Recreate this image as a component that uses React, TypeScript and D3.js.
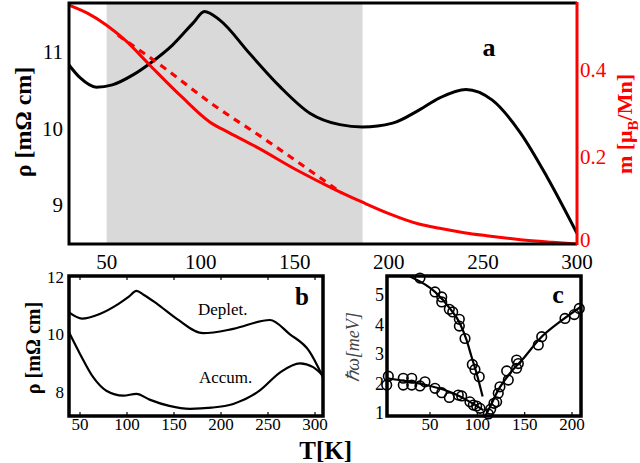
import React from "react";
import * as d3 from "d3";

// ---- panel a: resistivity (black) and magnetisation (red) vs T ----
const tempA = [30, 36, 44.5, 53, 64, 73, 85, 96, 102, 110, 126, 142, 158, 174, 186, 202, 216, 227, 241, 255, 270, 284, 300];
const rhoA = [10.83, 10.66, 10.54, 10.57, 10.7, 10.85, 11.09, 11.38, 11.53, 11.42, 10.98, 10.55, 10.2, 10.05, 10.02, 10.07, 10.24, 10.4, 10.51, 10.37, 9.94, 9.37, 8.63];
const tempM = [30, 40, 50, 60, 73, 90, 105, 115, 130, 151, 170, 186, 200, 216, 227, 240, 252, 270, 287, 300];
const magM = [0.549, 0.53, 0.503, 0.468, 0.411, 0.338, 0.28, 0.256, 0.222, 0.17, 0.128, 0.096, 0.07, 0.046, 0.036, 0.026, 0.019, 0.01, 0.004, 0];
const tempDash = [56, 80, 106, 133, 175];
const magDash = [0.48, 0.407, 0.322, 0.244, 0.117];
const shadeA = [50, 186];
const ticksTA = [50, 100, 150, 200, 250, 300];
const ticksRho = [9, 10, 11];
const ticksM = [0, 0.2, 0.4];

// ---- panel b: depletion / accumulation ----
const tempDep = [38.3, 52, 71, 91, 102, 110, 118, 132, 153, 181, 213, 252, 273, 294, 308.5];
const rhoDep = [10.75, 10.54, 10.7, 11.05, 11.3, 11.5, 11.36, 11.05, 10.53, 10.03, 10.18, 10.49, 10.0, 9.4, 8.5];
const tempAcc = [38.3, 50, 64, 78, 96, 110, 124, 145, 167, 190, 213, 241, 263, 284, 298, 308.5];
const rhoAcc = [10.06, 9.31, 8.5, 8.03, 7.86, 7.92, 7.72, 7.5, 7.4, 7.44, 7.57, 8.03, 8.67, 8.98, 8.85, 8.55];
const ticksTB = [50, 100, 150, 200, 250, 300];
const ticksRhoB = [8, 10, 12];

// ---- panel c: mode energies ----
const tempC = [39.4, 55.3, 62.4, 62.4, 70.4, 74, 81, 81, 87, 94.7, 97.5, 102,
  6, 4.3, 21.8, 21.8, 30.7, 30.7, 39.4, 44.7, 55.3, 62.4, 70.4, 79.9, 83.5, 92.2, 95.7, 99.3, 102.8,
  111.6, 114.1, 117.6, 120.4, 122.1, 123.9, 131, 132.7, 141.5, 141.5, 143.3, 164.4, 168, 192.6, 202.4, 207.7];
const omegaC = [5.58, 5.11, 4.94, 4.77, 4.52, 4.43, 4.18, 3.95, 3.53, 2.65, 2.48, 2.23,
  2.25, 1.95, 2.18, 1.95, 2.18, 1.95, 1.92, 2.06, 1.84, 1.69, 1.53, 1.61, 1.58, 1.38, 1.27, 1.24, 1.16,
  0.97, 1.13, 1.33, 1.38, 1.67, 1.89, 2.43, 2.12, 2.52, 2.8, 2.68, 3.31, 3.59, 4.21, 4.34, 4.55];
const fitUpperT = [28.9, 55.3, 71, 81.5, 88.6, 93.9, 99.2, 105.6];
const fitUpperW = [5.63, 5.11, 4.55, 4.05, 3.48, 2.91, 2.35, 1.56];
const fitLowerT = [4.3, 39.4, 74.6, 92.2, 106.3];
const fitLowerW = [2.18, 2.0, 1.67, 1.38, 1.1];
const fitRightT = [108, 113.4, 122.1, 134.5, 148.6, 166.2, 187.4, 209];
const fitRightW = [0.87, 1.21, 1.78, 2.35, 2.85, 3.53, 4.1, 4.6];
const ticksTC = [50, 100, 150, 200];
const ticksW = [1, 2, 3, 4, 5];

const font = "'Liberation Serif', 'Times New Roman', Times, serif";
const zip = (a: number[], b: number[]) => a.map((v, i) => [v, b[i]] as [number, number]);

const PanelA = () => {
  const x = d3.scaleLinear().domain([30, 300]).range([69, 577]);
  const y = d3.scaleLinear().domain([8.49, 11.64]).range([244, 3]);
  const yM = d3.scaleLinear().domain([0, 0.554]).range([244, 3]);
  const lineRho = d3.line<[number, number]>().x((d) => x(d[0])).y((d) => y(d[1])).curve(d3.curveMonotoneX);
  const lineM = d3.line<[number, number]>().x((d) => x(d[0])).y((d) => yM(d[1])).curve(d3.curveMonotoneX);
  return (
    <g>
      <defs>
        <clipPath id="clipA">
          <rect x={69} y={3} width={508} height={241} />
        </clipPath>
      </defs>
      <rect x={x(shadeA[0])} y={3} width={x(shadeA[1]) - x(shadeA[0])} height={241} fill="#d9d9d9" />
      <g clipPath="url(#clipA)" fill="none">
        <path d={lineRho(zip(tempA, rhoA)) ?? ""} stroke="#000" strokeWidth={3} />
        <path d={lineM(zip(tempM, magM)) ?? ""} stroke="#ff0000" strokeWidth={3} />
        <path d={lineM(zip(tempDash, magDash)) ?? ""} stroke="#ff0000" strokeWidth={3.2} strokeDasharray="7,6" />
      </g>
      <path d="M577,3 H69 V244 H577" fill="none" stroke="#000" strokeWidth={3} />
      <line x1={577} y1={2} x2={577} y2={245} stroke="#ff0000" strokeWidth={3} />
      {ticksTA.map((t) => (
        <text key={t} x={x(t)} y={269} textAnchor="middle" fontSize={21}>
          {t}
        </text>
      ))}
      {ticksRho.map((t) => (
        <text key={t} x={63} y={y(t)} dy="0.35em" textAnchor="end" fontSize={21}>
          {t}
        </text>
      ))}
      {ticksM.map((t) => (
        <text key={t} x={580} y={yM(t)} dy={t === 0 ? "0.15em" : "0.35em"} textAnchor="start" fontSize={21} fill="#ff0000">
          {t}
        </text>
      ))}
      <text x={489} y={56} textAnchor="middle" fontSize={26} fontWeight="bold">
        a
      </text>
      <text transform="translate(31,122) rotate(-90)" textAnchor="middle" fontSize={24} fontWeight="bold">
        ρ [mΩ cm]
      </text>
      <text transform="translate(632,124) rotate(-90)" textAnchor="middle" fontSize={22} fontWeight="bold" fill="#ff0000">
        m [μ<tspan fontSize={15} dy={6}>B</tspan>
        <tspan dy={-6}>/Mn]</tspan>
      </text>
    </g>
  );
};

const PanelB = () => {
  const x = d3.scaleLinear().domain([38.3, 308.5]).range([69, 323]);
  const y = d3.scaleLinear().domain([7.15, 12.02]).range([416, 276]);
  const line = d3.line<[number, number]>().x((d) => x(d[0])).y((d) => y(d[1])).curve(d3.curveMonotoneX);
  return (
    <g>
      <defs>
        <clipPath id="clipB">
          <rect x={69} y={276} width={254} height={140} />
        </clipPath>
      </defs>
      <g clipPath="url(#clipB)" fill="none" stroke="#000" strokeWidth={2.2}>
        <path d={line(zip(tempDep, rhoDep)) ?? ""} />
        <path d={line(zip(tempAcc, rhoAcc)) ?? ""} />
      </g>
      {ticksTB.map((t) => (
        <g key={t}>
          <line x1={x(t)} x2={x(t)} y1={416} y2={412} stroke="#000" strokeWidth={1.2} />
          <line x1={x(t)} x2={x(t)} y1={276} y2={280} stroke="#000" strokeWidth={1.2} />
          <text x={x(t)} y={430} textAnchor="middle" fontSize={17}>
            {t}
          </text>
        </g>
      ))}
      {ticksRhoB.map((t) => (
        <text key={t} x={64} y={y(t)} dy="0.35em" textAnchor="end" fontSize={17}>
          {t}
        </text>
      ))}
      <rect x={69} y={276} width={254} height={140} fill="none" stroke="#000" strokeWidth={3.5} />
      <text x={198} y={315} fontSize={17}>
        Deplet.
      </text>
      <text x={199} y={383} fontSize={17}>
        Accum.
      </text>
      <text x={302} y={305} textAnchor="middle" fontSize={25} fontWeight="bold">
        b
      </text>
      <text transform="translate(40,348) rotate(-90)" textAnchor="middle" fontSize={20} fontWeight="bold">
        ρ [mΩ cm]
      </text>
      <text x={352} y={459} textAnchor="end" fontSize={25} fontWeight="bold">
        T[K]
      </text>
    </g>
  );
};

const PanelC = () => {
  const x = d3.scaleLinear().domain([4.6, 209.5]).range([387, 581]);
  const y = d3.scaleLinear().domain([0.9, 5.65]).range([416, 276]);
  const line = d3.line<[number, number]>().x((d) => x(d[0])).y((d) => y(d[1])).curve(d3.curveMonotoneX);
  return (
    <g>
      <defs>
        <clipPath id="clipC">
          <rect x={387} y={276} width={194} height={140} />
        </clipPath>
      </defs>
      <g clipPath="url(#clipC)" fill="none" stroke="#000">
        <path d={line(zip(fitUpperT, fitUpperW)) ?? ""} strokeWidth={2.2} />
        <path d={line(zip(fitLowerT, fitLowerW)) ?? ""} strokeWidth={2.2} />
        <path d={line(zip(fitRightT, fitRightW)) ?? ""} strokeWidth={2.2} />
      </g>
      <g fill="none" stroke="#000" strokeWidth={1.6}>
        {tempC.map((t, i) => (
          <circle key={i} cx={x(t)} cy={y(omegaC[i])} r={4.8} />
        ))}
      </g>
      {ticksTC.map((t) => (
        <g key={t}>
          <line x1={x(t)} x2={x(t)} y1={416} y2={412} stroke="#000" strokeWidth={1.2} />
          <text x={x(t)} y={430} textAnchor="middle" fontSize={17}>
            {t}
          </text>
        </g>
      ))}
      {ticksW.map((t) => (
        <text key={t} x={384} y={y(t)} dy="0.35em" textAnchor="end" fontSize={18}>
          {t}
        </text>
      ))}
      <rect x={387} y={276} width={194} height={140} fill="none" stroke="#000" strokeWidth={3.5} />
      <text x={558} y={303} textAnchor="middle" fontSize={26} fontWeight="bold">
        c
      </text>
      <text transform="translate(359,347) rotate(-90)" textAnchor="middle" fontSize={18} fontStyle="italic" fill="#444">
        ℏω[meV]
      </text>
    </g>
  );
};

export default function App() {
  return (
    <svg
      width={640}
      height={463}
      style={{ position: "absolute", left: 0, top: 0, background: "#fff", fontFamily: font }}
    >
      <PanelA />
      <PanelB />
      <PanelC />
    </svg>
  );
}
